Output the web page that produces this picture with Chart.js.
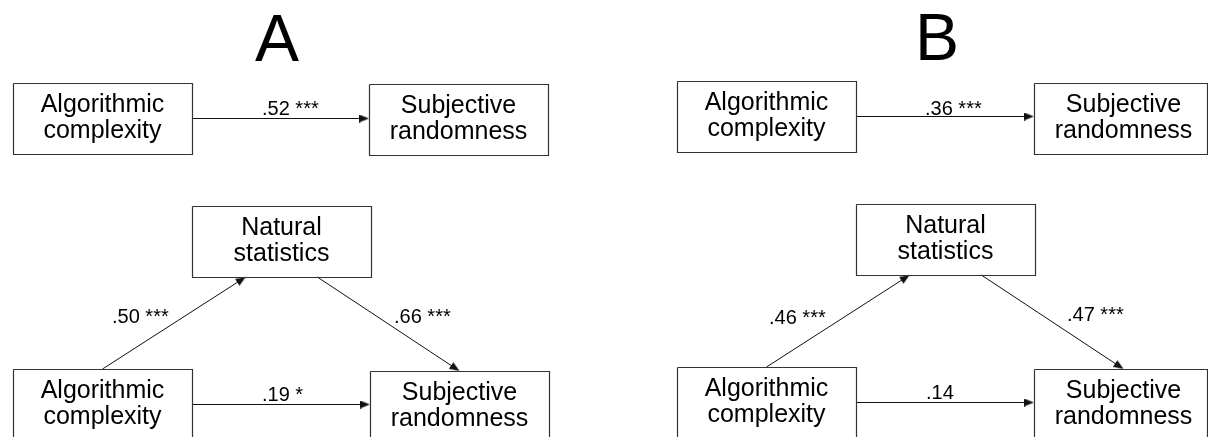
<!DOCTYPE html>
<html>
<head>
<meta charset="utf-8">
<script src="https://cdn.jsdelivr.net/npm/chart.js@4.4.1/dist/chart.umd.min.js"></script>
<style>
    html, body { margin: 0; padding: 0; background: #fff; }
    #wrap { width: 1208px; height: 437px; position: relative; }
</style>
</head>
<body>
<div id="wrap"><canvas id="pfadChart"></canvas></div>
<script>
// ========================================
// DATA
// ========================================

const panelTitles = ['A', 'B'];
const nodeNames = ['Algorithmic\ncomplexity', 'Natural\nstatistics', 'Subjective\nrandomness'];

// standardized path coefficients, one entry per panel [A, B]
const totalEffect = [0.52, 0.36];       // complexity -> randomness, no mediator
const totalStars = ['***', '***'];
const pathToNatural = [0.50, 0.46];     // complexity -> natural statistics
const pathToNaturalStars = ['***', '***'];
const pathFromNatural = [0.66, 0.47];   // natural statistics -> randomness
const pathFromNaturalStars = ['***', '***'];
const directEffect = [0.19, 0.14];      // complexity -> randomness, with mediator
const directStars = ['*', ''];

// ========================================
// LAYOUT (pixel units, scales map 1:1)
// ========================================

const W = 1208, H = 437;
const BOX_W = 179, BOX_H = 71;
const LINE_COLOR = '#111';
const BOX_COLOR = '#333';
const FONT = '"Liberation Sans", Arial, Helvetica, sans-serif';

// top-left corners of boxes; c1/r1 = simple model, n/c2/r2 = mediation model
const layouts = [
    {
        title: [277, 61],
        c1: [13, 83], r1: [369, 84],
        n: [192, 206], c2: [13, 369], r2: [370, 371],
        lbl: { total: [262, 115], a: [112, 323], b: [394, 323], direct: [262, 401] }
    },
    {
        title: [937, 60],
        c1: [677, 81], r1: [1034, 83],
        n: [856, 204], c2: [677, 367], r2: [1034, 369],
        lbl: { total: [925, 115], a: [769, 324], b: [1067, 321], direct: [926, 399] }
    }
];

// ========================================
// HELPERS
// ========================================

const fmtCoef = (v, stars) => v.toFixed(2).replace(/^0/, '') + (stars ? ' ' + stars : '');

const makeArrowHead = () => {
    const c = document.createElement('canvas');
    c.width = 8;
    c.height = 10;
    const g = c.getContext('2d');
    g.fillStyle = LINE_COLOR;
    g.beginPath();
    g.moveTo(4, 0);
    g.lineTo(8, 10);
    g.lineTo(0, 10);
    g.closePath();
    g.fill();
    return c;
};
const HEAD = makeArrowHead();

const boxDataset = ([bx, by]) => {
    const x1 = bx + 0.5, y1 = by + 0.5;
    const x2 = Math.min(bx + BOX_W, W - 1) + 0.5;
    const y2 = by + BOX_H + 0.5;
    return {
        data: [{ x: x1, y: y1 }, { x: x2, y: y1 }, { x: x2, y: y2 }, { x: x1, y: y2 }, { x: x1, y: y1 }],
        showLine: true,
        borderColor: BOX_COLOR,
        borderWidth: 1.2,
        pointRadius: 0,
        pointHitRadius: 0,
        fill: false
    };
};

const arrowDataset = (from, to) => {
    const dx = to[0] - from[0], dy = to[1] - from[1];
    const len = Math.hypot(dx, dy);
    const ux = dx / len, uy = dy / len;
    const half = HEAD.height / 2;
    const deg = Math.atan2(ux, -uy) * 180 / Math.PI;
    return {
        data: [{ x: from[0], y: from[1] }, { x: to[0] - ux * half, y: to[1] - uy * half }],
        showLine: true,
        borderColor: LINE_COLOR,
        borderWidth: 1,
        pointRadius: [0, 5],
        pointStyle: HEAD,
        pointRotation: deg,
        pointHitRadius: 0,
        fill: false
    };
};

// ========================================
// BUILD DATASETS + TEXT
// ========================================

const datasets = [];
const texts = [];

layouts.forEach((L, i) => {
    [L.c1, L.r1, L.n, L.c2, L.r2].forEach(b => datasets.push(boxDataset(b)));

    const mid = b => b[1] + BOX_H / 2;
    // simple model
    datasets.push(arrowDataset([L.c1[0] + BOX_W, mid(L.c1)], [L.r1[0], mid(L.c1)]));
    // mediation model
    datasets.push(arrowDataset([L.c2[0] + BOX_W / 2, L.c2[1]], [L.n[0] + 0.3 * BOX_W, L.n[1] + BOX_H]));
    datasets.push(arrowDataset([L.n[0] + 0.7 * BOX_W, L.n[1] + BOX_H], [L.r2[0] + BOX_W / 2, L.r2[1]]));
    datasets.push(arrowDataset([L.c2[0] + BOX_W, mid(L.c2)], [L.r2[0], mid(L.c2)]));

    texts.push({ text: panelTitles[i], x: L.title[0], y: L.title[1], size: 66, align: 'center' });

    const boxText = (b, name) => {
        const [l1, l2] = name.split('\n');
        const cx = b[0] + BOX_W / 2, cy = mid(b);
        texts.push({ text: l1, x: cx, y: cy - 6.5, size: 25, align: 'center' });
        texts.push({ text: l2, x: cx, y: cy + 19.5, size: 25, align: 'center' });
    };
    boxText(L.c1, nodeNames[0]);
    boxText(L.r1, nodeNames[2]);
    boxText(L.n, nodeNames[1]);
    boxText(L.c2, nodeNames[0]);
    boxText(L.r2, nodeNames[2]);

    texts.push({ text: fmtCoef(totalEffect[i], totalStars[i]), x: L.lbl.total[0], y: L.lbl.total[1], size: 20, align: 'left' });
    texts.push({ text: fmtCoef(pathToNatural[i], pathToNaturalStars[i]), x: L.lbl.a[0], y: L.lbl.a[1], size: 20, align: 'left' });
    texts.push({ text: fmtCoef(pathFromNatural[i], pathFromNaturalStars[i]), x: L.lbl.b[0], y: L.lbl.b[1], size: 20, align: 'left' });
    texts.push({ text: fmtCoef(directEffect[i], directStars[i]), x: L.lbl.direct[0], y: L.lbl.direct[1], size: 20, align: 'left' });
});

const textPlugin = {
    id: 'pfadText',
    afterDatasetsDraw(chart) {
        const { ctx, scales: { x, y } } = chart;
        ctx.save();
        ctx.fillStyle = '#000';
        ctx.textBaseline = 'alphabetic';
        texts.forEach(t => {
            ctx.font = `${t.size}px ${FONT}`;
            ctx.textAlign = t.align;
            ctx.fillText(t.text, x.getPixelForValue(t.x), y.getPixelForValue(t.y));
        });
        ctx.restore();
    }
};

const whiteBg = {
    id: 'whiteBg',
    beforeDraw(chart) {
        const { ctx, width, height } = chart;
        ctx.save();
        ctx.fillStyle = '#fff';
        ctx.fillRect(0, 0, width, height);
        ctx.restore();
    }
};

// ========================================
// CHART
// ========================================

new Chart(document.getElementById('pfadChart'), {
    type: 'scatter',
    data: { datasets },
    options: {
        responsive: true,
        maintainAspectRatio: false,
        animation: false,
        events: [],
        layout: { padding: 0, autoPadding: false },
        plugins: {
            legend: { display: false },
            tooltip: { enabled: false }
        },
        scales: {
            x: { type: 'linear', min: 0, max: W, display: false },
            y: { type: 'linear', min: 0, max: H, reverse: true, display: false }
        }
    },
    plugins: [whiteBg, textPlugin]
});
</script>
</body>
</html>
